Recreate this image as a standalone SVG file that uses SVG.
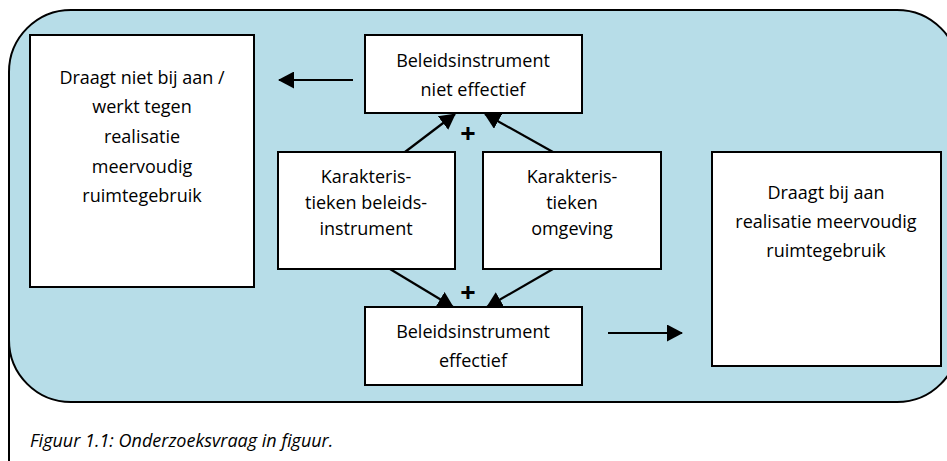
<svg xmlns="http://www.w3.org/2000/svg" width="947" height="461" viewBox="0 0 947 461">
<style>
.box{fill:#fff;stroke:#000;stroke-width:2}
text{font-family:"Open Sans","Noto Sans","Liberation Sans",sans-serif;font-size:18px;fill:#000;text-anchor:middle}
.cap{font-style:italic;text-anchor:start;font-size:18px}
.plus{font-weight:bold;font-size:27px}
.con{stroke:#000;stroke-width:2.2;fill:none;marker-end:url(#ah)}
</style>
<defs>
<marker id="ah" markerUnits="userSpaceOnUse" markerWidth="17" markerHeight="17" refX="15" refY="8.5" orient="auto"><path d="M0,0 L16,8.5 L0,17 Z" fill="#000"/></marker>
</defs>
<rect x="9" y="10" width="950" height="392" rx="62" ry="62" fill="#b7dde8" stroke="#000" stroke-width="2"/>
<line x1="9" y1="80" x2="9" y2="461" stroke="#000" stroke-width="2"/>
<g id="n-left"><rect class="box" x="30" y="35" width="224" height="252"/>
<text x="142" y="84">Draagt niet bij aan /</text><text x="142" y="113">werkt tegen</text><text x="142" y="143">realisatie</text><text x="142" y="173">meervoudig</text><text x="142" y="202">ruimtegebruik</text></g>
<g id="n-niet"><rect class="box" x="365" y="35" width="217" height="78"/>
<text x="473" y="67">Beleidsinstrument</text><text x="473" y="96">niet effectief</text></g>
<g id="n-kb"><rect class="box" x="278" y="152" width="177" height="117"/>
<text x="366" y="183">Karakteris-</text><text x="366" y="209">tieken beleids-</text><text x="366" y="235">instrument</text></g>
<g id="n-ko"><rect class="box" x="483" y="152" width="178" height="117"/>
<text x="572" y="183">Karakteris-</text><text x="572" y="209">tieken</text><text x="572" y="235">omgeving</text></g>
<g id="n-eff"><rect class="box" x="365" y="307" width="217" height="78"/>
<text x="473" y="338">Beleidsinstrument</text><text x="473" y="367">effectief</text></g>
<g id="n-right"><rect class="box" x="712" y="152" width="229" height="214"/>
<text x="826" y="199">Draagt bij aan</text><text x="826" y="228">realisatie meervoudig</text><text x="826" y="257">ruimtegebruik</text></g>
<g id="connectors">
<line class="con" x1="353" y1="80" x2="279" y2="80"/>
<line class="con" x1="405" y1="152" x2="455" y2="114"/>
<line class="con" x1="553" y1="152" x2="485" y2="114"/>
<line class="con" x1="390" y1="269" x2="453" y2="307"/>
<line class="con" x1="553" y1="269" x2="487" y2="307"/>
<line class="con" x1="608" y1="333" x2="682" y2="333"/>
</g>
<text class="plus" x="468" y="143">+</text>
<text class="plus" x="468" y="302">+</text>
<text class="cap" x="30" y="447">Figuur 1.1: Onderzoeksvraag in figuur.</text>
</svg>
